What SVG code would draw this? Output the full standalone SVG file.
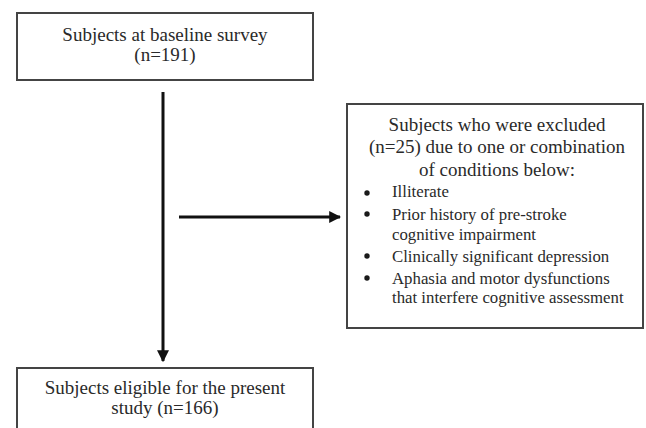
<svg xmlns="http://www.w3.org/2000/svg" width="646" height="428" viewBox="0 0 646 428">
<style>
.box{fill:#fff;stroke:#444;stroke-width:2}
text{font-family:"Liberation Serif","Times New Roman",serif;font-size:19px;fill:#2a2a2a}
.b{font-size:16.8px}
.c{text-anchor:middle}
.conn{stroke:#111;stroke-width:3;fill:none}
.dot{fill:#1a1a1a}
</style>
<defs>
<marker id="ah" viewBox="0 0 10 10" refX="9" refY="5" markerWidth="4" markerHeight="4" orient="auto" markerUnits="strokeWidth">
<path d="M0,0 L10,5 L0,10 z" fill="#111"/>
</marker>
</defs>
<rect width="646" height="428" fill="#fff"/>
<g id="connectors">
<line class="conn" x1="163" y1="92" x2="163" y2="361" marker-end="url(#ah)"/>
<line class="conn" x1="179" y1="217" x2="340" y2="217" marker-end="url(#ah)"/>
</g>
<g id="baseline">
<rect class="box" x="17" y="13" width="296" height="67"/>
<text class="c" x="165" y="41">Subjects at baseline survey</text>
<text class="c" x="165" y="61">(n=191)</text>
</g>
<g id="excluded">
<rect class="box" x="347" y="104" width="296" height="224"/>
<text class="c" x="497" y="131">Subjects who were excluded</text>
<text class="c" x="497" y="153">(n=25) due to one or combination</text>
<text class="c" x="497" y="176">of conditions below:</text>
<circle class="dot" cx="367" cy="193" r="2.7"/>
<text class="b" x="392" y="197">Illiterate</text>
<circle class="dot" cx="367" cy="214" r="2.7"/>
<text class="b" x="392" y="220">Prior history of pre-stroke</text>
<text class="b" x="392" y="240">cognitive impairment</text>
<circle class="dot" cx="367" cy="256" r="2.7"/>
<text class="b" x="392" y="262">Clinically significant depression</text>
<circle class="dot" cx="367" cy="278" r="2.7"/>
<text class="b" x="392" y="284">Aphasia and motor dysfunctions</text>
<text class="b" x="392" y="303">that interfere cognitive assessment</text>
</g>
<g id="eligible">
<rect class="box" x="17" y="368" width="296" height="70"/>
<text class="c" x="165" y="394">Subjects eligible for the present</text>
<text class="c" x="165" y="414">study (n=166)</text>
</g>
</svg>
